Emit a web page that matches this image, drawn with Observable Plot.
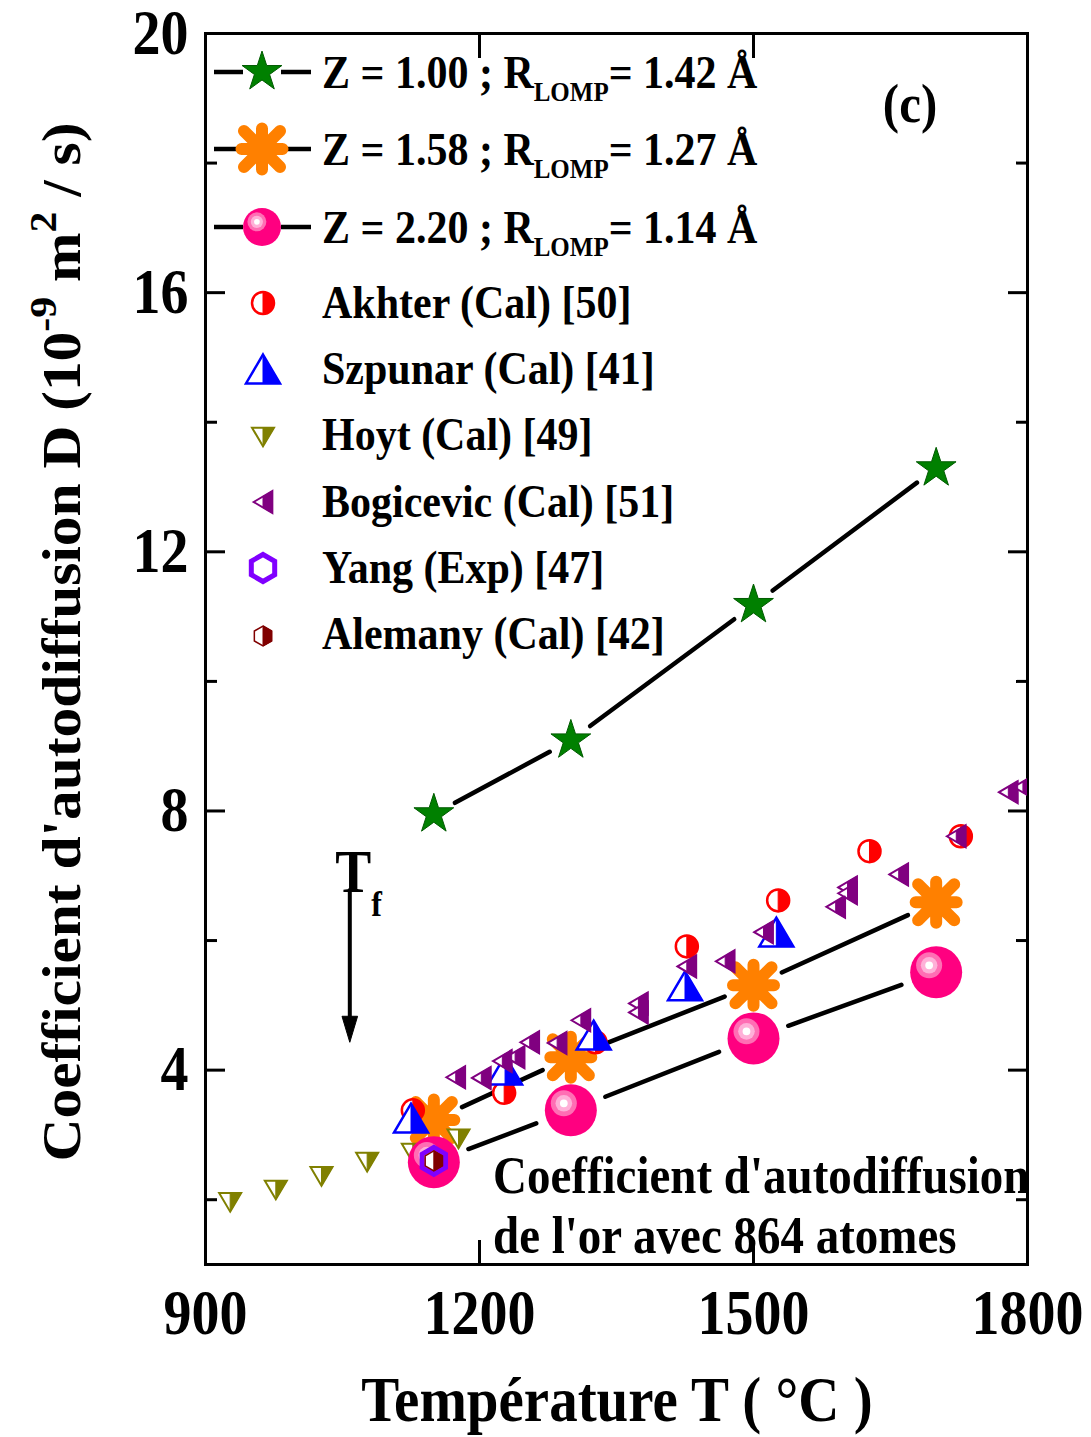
<!DOCTYPE html>
<html><head><meta charset="utf-8">
<script src="https://cdn.jsdelivr.net/npm/d3@7"></script>
<script src="https://cdn.jsdelivr.net/npm/@observablehq/plot@0.6"></script>
<style>body{margin:0;background:#fff}</style>
</head><body><div id="chart"></div>
<script>
const SERIF = '"Liberation Serif", "Times New Roman", Times, serif';
const STRETCH = 1.12; // the original glyphs are taller than wide

// ---------- data ----------
const modelT = [1150, 1300, 1500, 1700];
const dZ100 = [7.95, 9.09, 11.18, 13.29];   // Z = 1.00 ; R = 1.42 Å
const dZ158 = [3.23, 4.20, 5.31, 6.59];     // Z = 1.58 ; R = 1.27 Å
const dZ220 = [2.58, 3.38, 4.49, 5.51];     // Z = 2.20 ; R = 1.14 Å
const akhterT = [1127, 1227, 1327, 1427, 1527, 1627, 1727];
const akhterD = [3.38, 3.65, 4.43, 5.91, 6.62, 7.38, 7.61];
const szpunarT = [1125, 1228, 1325, 1425, 1525];
const szpunarD = [3.26, 4.00, 4.54, 5.30, 6.13];
const hoytT = [927, 977, 1027, 1077, 1127, 1177];
const hoytD = [1.96, 2.15, 2.36, 2.58, 2.72, 2.94];
const bogT = [1174, 1202, 1225, 1239, 1255, 1285, 1311, 1374, 1374, 1427, 1469, 1511, 1590, 1603, 1603, 1659, 1722, 1779, 1795];
const bogD = [3.89, 3.88, 4.14, 4.20, 4.43, 4.42, 4.77, 5.03, 4.89, 5.60, 5.68, 6.13, 6.52, 6.82, 6.73, 7.02, 7.61, 8.29, 8.37];
const yangT = [1150];
const yangD = [2.60];
const alemanyT = [1150];
const alemanyD = [2.60];
const meltT = 1058;                 // T_f marker
const meltArrowD = [6.78, 4.43];    // arrow from / to
const xTicks = [900, 1200, 1500, 1800];
const yTicks = [4, 8, 12, 16, 20];
const yMinor = [2, 6, 10, 14, 18];
const modelLabels = [["Z = 1.00 ; R", "LOMP", "= 1.42 Å"], ["Z = 1.58 ; R", "LOMP", "= 1.27 Å"], ["Z = 2.20 ; R", "LOMP", "= 1.14 Å"]];
const refLabels = ["Akhter (Cal) [50]", "Szpunar (Cal) [41]", "Hoyt (Cal) [49]", "Bogicevic (Cal) [51]", "Yang (Exp) [47]", "Alemany (Cal) [42]"];

const rows = (T, D) => T.map((t, i) => ({T: t, D: D[i]}));
const segs = (r) => r.slice(1).map((p, i) => ({x1: r[i].T, y1: r[i].D, x2: p.T, y2: p.D}));

// ---------- symbols ----------
const rad = s => Math.sqrt(s / Math.PI);
const K = 0.85;
const symCircle = {draw(c, s) {const r = rad(s); c.moveTo(r, 0); c.arc(0, 0, r, 0, 2 * Math.PI); c.closePath();}};
const symCircleR = {draw(c, s) {const r = rad(s); c.moveTo(0, -r); c.arc(0, 0, r, -Math.PI / 2, Math.PI / 2); c.closePath();}};
const symTriUp = {draw(c, s) {const r = rad(s); c.moveTo(0, -K * r); c.lineTo(r, K * r); c.lineTo(-r, K * r); c.closePath();}};
const symTriUpR = {draw(c, s) {const r = rad(s); c.moveTo(0, -K * r); c.lineTo(r, K * r); c.lineTo(0, K * r); c.closePath();}};
const symTriDown = {draw(c, s) {const r = rad(s); c.moveTo(0, K * r); c.lineTo(r, -K * r); c.lineTo(-r, -K * r); c.closePath();}};
const symTriDownR = {draw(c, s) {const r = rad(s); c.moveTo(0, K * r); c.lineTo(r, -K * r); c.lineTo(0, -K * r); c.closePath();}};
const symTriLeft = {draw(c, s) {const r = rad(s); c.moveTo(-K * r, 0); c.lineTo(K * r, -r); c.lineTo(K * r, r); c.closePath();}};
const symTriLeftR = {draw(c, s) {const r = rad(s); c.moveTo(0, -0.5 * r); c.lineTo(K * r, -r); c.lineTo(K * r, r); c.lineTo(0, 0.5 * r); c.closePath();}};
const hexPts = r => d3.range(6).map(k => {const a = -Math.PI / 2 + k * Math.PI / 3; return [r * Math.cos(a), r * Math.sin(a)];});
const symHex = {draw(c, s) {const p = hexPts(rad(s)); c.moveTo(...p[0]); for (let k = 1; k < 6; k++) c.lineTo(...p[k]); c.closePath();}};
const symHexR = {draw(c, s) {const p = hexPts(rad(s)); c.moveTo(...p[0]); c.lineTo(...p[1]); c.lineTo(...p[2]); c.lineTo(...p[3]); c.closePath();}};
const symAst = {draw(c, s) {const r = rad(s), d = 0.88 * r; c.moveTo(0, -r); c.lineTo(0, r); c.moveTo(-r, 0); c.lineTo(r, 0); c.moveTo(-d, -d); c.lineTo(d, d); c.moveTo(-d, d); c.lineTo(d, -d);}};
const symHead = {draw(c, s) {const r = rad(s); c.moveTo(0, 0); c.lineTo(-0.3 * r, -r); c.lineTo(0.3 * r, -r); c.closePath();}};

// style specs: list of layers
const STAR = [{symbol: d3.symbolStar, r: 12.5, fill: "#008000", stroke: "#005a00", strokeWidth: 1}];
const AST = [{symbol: symAst, r: 20.5, fill: "none", stroke: "#FF8000", strokeWidth: 12, linecap: "round"}];
const SPHERE = (R) => [
  {symbol: symCircle, r: R, fill: "#FF0080"},
  {symbol: symCircle, r: R * 0.5, fill: "#FF6EB4", dx: -R * 0.27, dy: -R * 0.27},
  {symbol: symCircle, r: R * 0.32, fill: "#FFB0D8", dx: -R * 0.27, dy: -R * 0.27},
  {symbol: symCircle, r: R * 0.15, fill: "#FFFFFF", dx: -R * 0.27, dy: -R * 0.27}
];
const half = (full, part, r, color, sw = 2) => [
  {symbol: full, r, fill: "white", stroke: color, strokeWidth: sw},
  {symbol: part, r, fill: color, stroke: color, strokeWidth: 1}
];
const AKHTER = half(symCircle, symCircleR, 11, "#FF0000", 2.5);
const SZPUNAR = half(symTriUp, symTriUpR, 17, "#0000FF", 2.5);
const HOYT = half(symTriDown, symTriDownR, 11, "#808000", 2);
const BOG = half(symTriLeft, symTriLeftR, 11, "#800080", 2);
const YANG = [{symbol: symHex, r: 13.5, fill: "none", stroke: "#8000FF", strokeWidth: 5}];
const ALEMANY = half(symHex, symHexR, 10, "#800000", 1.5);

const dotLayers = (data, spec, extra = {}) => spec.map(L => Plot.dot(data, {
  x: "T", y: "D", symbol: L.symbol, r: L.r, fill: L.fill, stroke: L.stroke ?? "none",
  strokeWidth: L.strokeWidth ?? 0, dx: L.dx ?? 0, dy: L.dy ?? 0,
  strokeLinecap: L.linecap ?? "butt", strokeLinejoin: "miter", ...extra
}));

const r100 = rows(modelT, dZ100), r158 = rows(modelT, dZ158), r220 = rows(modelT, dZ220);
const lineOpts = {x1: "x1", y1: "y1", x2: "x2", y2: "y2", headLength: 0, stroke: "black", strokeWidth: 4.5};

const W = 1091, H = 1437;
const plot = Plot.plot({
  width: W, height: H,
  marginLeft: 205, marginTop: 33, marginRight: 64, marginBottom: 173,
  x: {domain: [900, 1800], label: null},
  y: {domain: [1, 20], label: null},
  style: {fontFamily: SERIF, fontWeight: "bold", fontSize: "56px", background: "white", color: "black"},
  marks: [
    Plot.axisX({anchor: "bottom", ticks: xTicks, tickSize: -24, tickPadding: 49, tickFormat: d => String(d), label: null, fontSize: 56, strokeWidth: 3}),
    Plot.axisX({anchor: "top", ticks: xTicks, tickSize: -24, tickFormat: () => "", label: null, strokeWidth: 3}),
    Plot.axisY({anchor: "left", ticks: yTicks, tickSize: -20, tickPadding: 37, tickFormat: d => String(d), label: null, fontSize: 56, strokeWidth: 3}),
    Plot.axisY({anchor: "left", ticks: yMinor, tickSize: -12, tickFormat: () => "", label: null, strokeWidth: 3}),
    Plot.axisY({anchor: "right", ticks: yTicks, tickSize: -20, tickFormat: () => "", label: null, strokeWidth: 3}),
    Plot.axisY({anchor: "right", ticks: yMinor, tickSize: -12, tickFormat: () => "", label: null, strokeWidth: 3}),
    Plot.frame({stroke: "black", strokeWidth: 3}),
    // T_f arrow
    Plot.arrow([meltArrowD], {x1: () => meltT, x2: () => meltT, y1: d => d[0], y2: d => d[1], headLength: 0, insetEnd: 22, stroke: "black", strokeWidth: 4}),
    Plot.dot([meltArrowD], {x: () => meltT, y: d => d[1], symbol: symHead, r: 26, fill: "black", stroke: "black", strokeWidth: 1}),
    // model lines (with gaps at the symbols)
    Plot.arrow(segs(r100), {...lineOpts, inset: 24}),
    Plot.arrow(segs(r158), {...lineOpts, inset: 31}),
    Plot.arrow(segs(r220), {...lineOpts, inset: 37}),
    ...dotLayers(r100, STAR),
    ...dotLayers(r158, AST),
    ...dotLayers(rows(hoytT, hoytD), HOYT),
    ...dotLayers(r220, SPHERE(26)),
    ...dotLayers(rows(akhterT, akhterD), AKHTER),
    ...dotLayers(rows(szpunarT, szpunarD), SZPUNAR),
    ...dotLayers(rows(bogT, bogD), BOG, {clip: "frame"}),
    ...dotLayers(rows(yangT, yangD), YANG),
    ...dotLayers(rows(alemanyT, alemanyD), ALEMANY)
  ]
});
document.getElementById("chart").append(plot);

// stretch tick labels vertically like the original glyphs
const svg = d3.select(plot);
svg.selectAll('g[aria-label="x-axis tick label"] text, g[aria-label="y-axis tick label"] text').each(function () {
  const t = d3.select(this);
  const tr = t.attr("transform") || "";
  t.attr("transform", `${tr} scale(1,${STRETCH})`);
});

// ---------- texts and legend ----------
const sx = plot.scale("x");
function addText(g, {x, y, size, anchor = "start", rotate = 0, parts, sx: kx = 1, sy: ky = STRETCH}) {
  const t = g.append("text").attr("font-family", SERIF).attr("font-weight", "bold")
    .attr("font-size", size).attr("text-anchor", anchor).attr("fill", "black")
    .style("white-space", "pre")
    .attr("transform", `translate(${x},${y})${rotate ? ` rotate(${rotate})` : ""} scale(${kx},${ky})`);
  let shift = 0;
  for (const p of parts) {
    const part = typeof p === "string" ? {t: p} : p;
    const target = part.off ?? 0;
    const ts = t.append("tspan").text(part.t);
    if (target !== shift) ts.attr("dy", target - shift);
    shift = target;
    if (part.size) ts.attr("font-size", part.size);
  }
  return t;
}
function drawSym(g, x, y, spec) {
  for (const L of spec) {
    g.append("path")
      .attr("d", d3.symbol(L.symbol, Math.PI * L.r * L.r)())
      .attr("transform", `translate(${x + (L.dx ?? 0)},${y + (L.dy ?? 0)})`)
      .attr("fill", L.fill).attr("stroke", L.stroke ?? "none")
      .attr("stroke-width", L.strokeWidth ?? 0)
      .attr("stroke-linecap", L.linecap ?? "butt");
  }
}
const G = svg.append("g");
// legend – model series
const modelSpecs = [STAR, AST, SPHERE(19)];
const modelY = [72, 149, 227];
modelSpecs.forEach((spec, i) => {
  const y = modelY[i];
  G.append("line").attr("x1", 214).attr("x2", 243).attr("y1", y).attr("y2", y).attr("stroke", "black").attr("stroke-width", 4.5);
  G.append("line").attr("x1", 281).attr("x2", 311).attr("y1", y).attr("y2", y).attr("stroke", "black").attr("stroke-width", 4.5);
  drawSym(G, 262, y, spec);
  const [a, sub, b] = modelLabels[i];
  addText(G, {x: 322, y: y + 16, size: 42, parts: [a, {t: sub, size: 25, off: 12}, {t: b, off: 0}]});
});
// legend – reference data
const refSpecs = [AKHTER, SZPUNAR, HOYT, BOG, YANG, ALEMANY];
const refSymY = [303, 369, 437, 502, 568, 636];
const refTxtY = [318, 384, 450, 517, 583, 649];
refSpecs.forEach((spec, i) => {
  drawSym(G, 263, refSymY[i], spec);
  addText(G, {x: 322, y: refTxtY[i], size: 42, parts: [refLabels[i]]});
});
// panel label
addText(G, {x: 910, y: 122, size: 49, anchor: "middle", parts: ["(c)"]});
// T_f label
addText(G, {x: sx.apply(meltT) - 14, y: 892, size: 54, parts: ["T", {t: "f", size: 32, off: 21}]});
// note
addText(G, {x: 493, y: 1193, size: 47, parts: ["Coefficient d'autodiffusion"]});
addText(G, {x: 493, y: 1253, size: 47, parts: ["de l'or avec 864 atomes"]});
// axis titles
addText(G, {x: 617, y: 1421, size: 57, anchor: "middle", parts: ["Température T ( °C )"]});
addText(G, {x: 80, y: 642, size: 54, anchor: "middle", rotate: -90, sx: 1.1, sy: 1,
  parts: ["Coefficient d'autodiffusion D (10", {t: "-9", size: 38, off: -24}, {t: " m", off: 0}, {t: "2", size: 38, off: -24}, {t: " / s)", off: 0}]});
</script></body></html>
